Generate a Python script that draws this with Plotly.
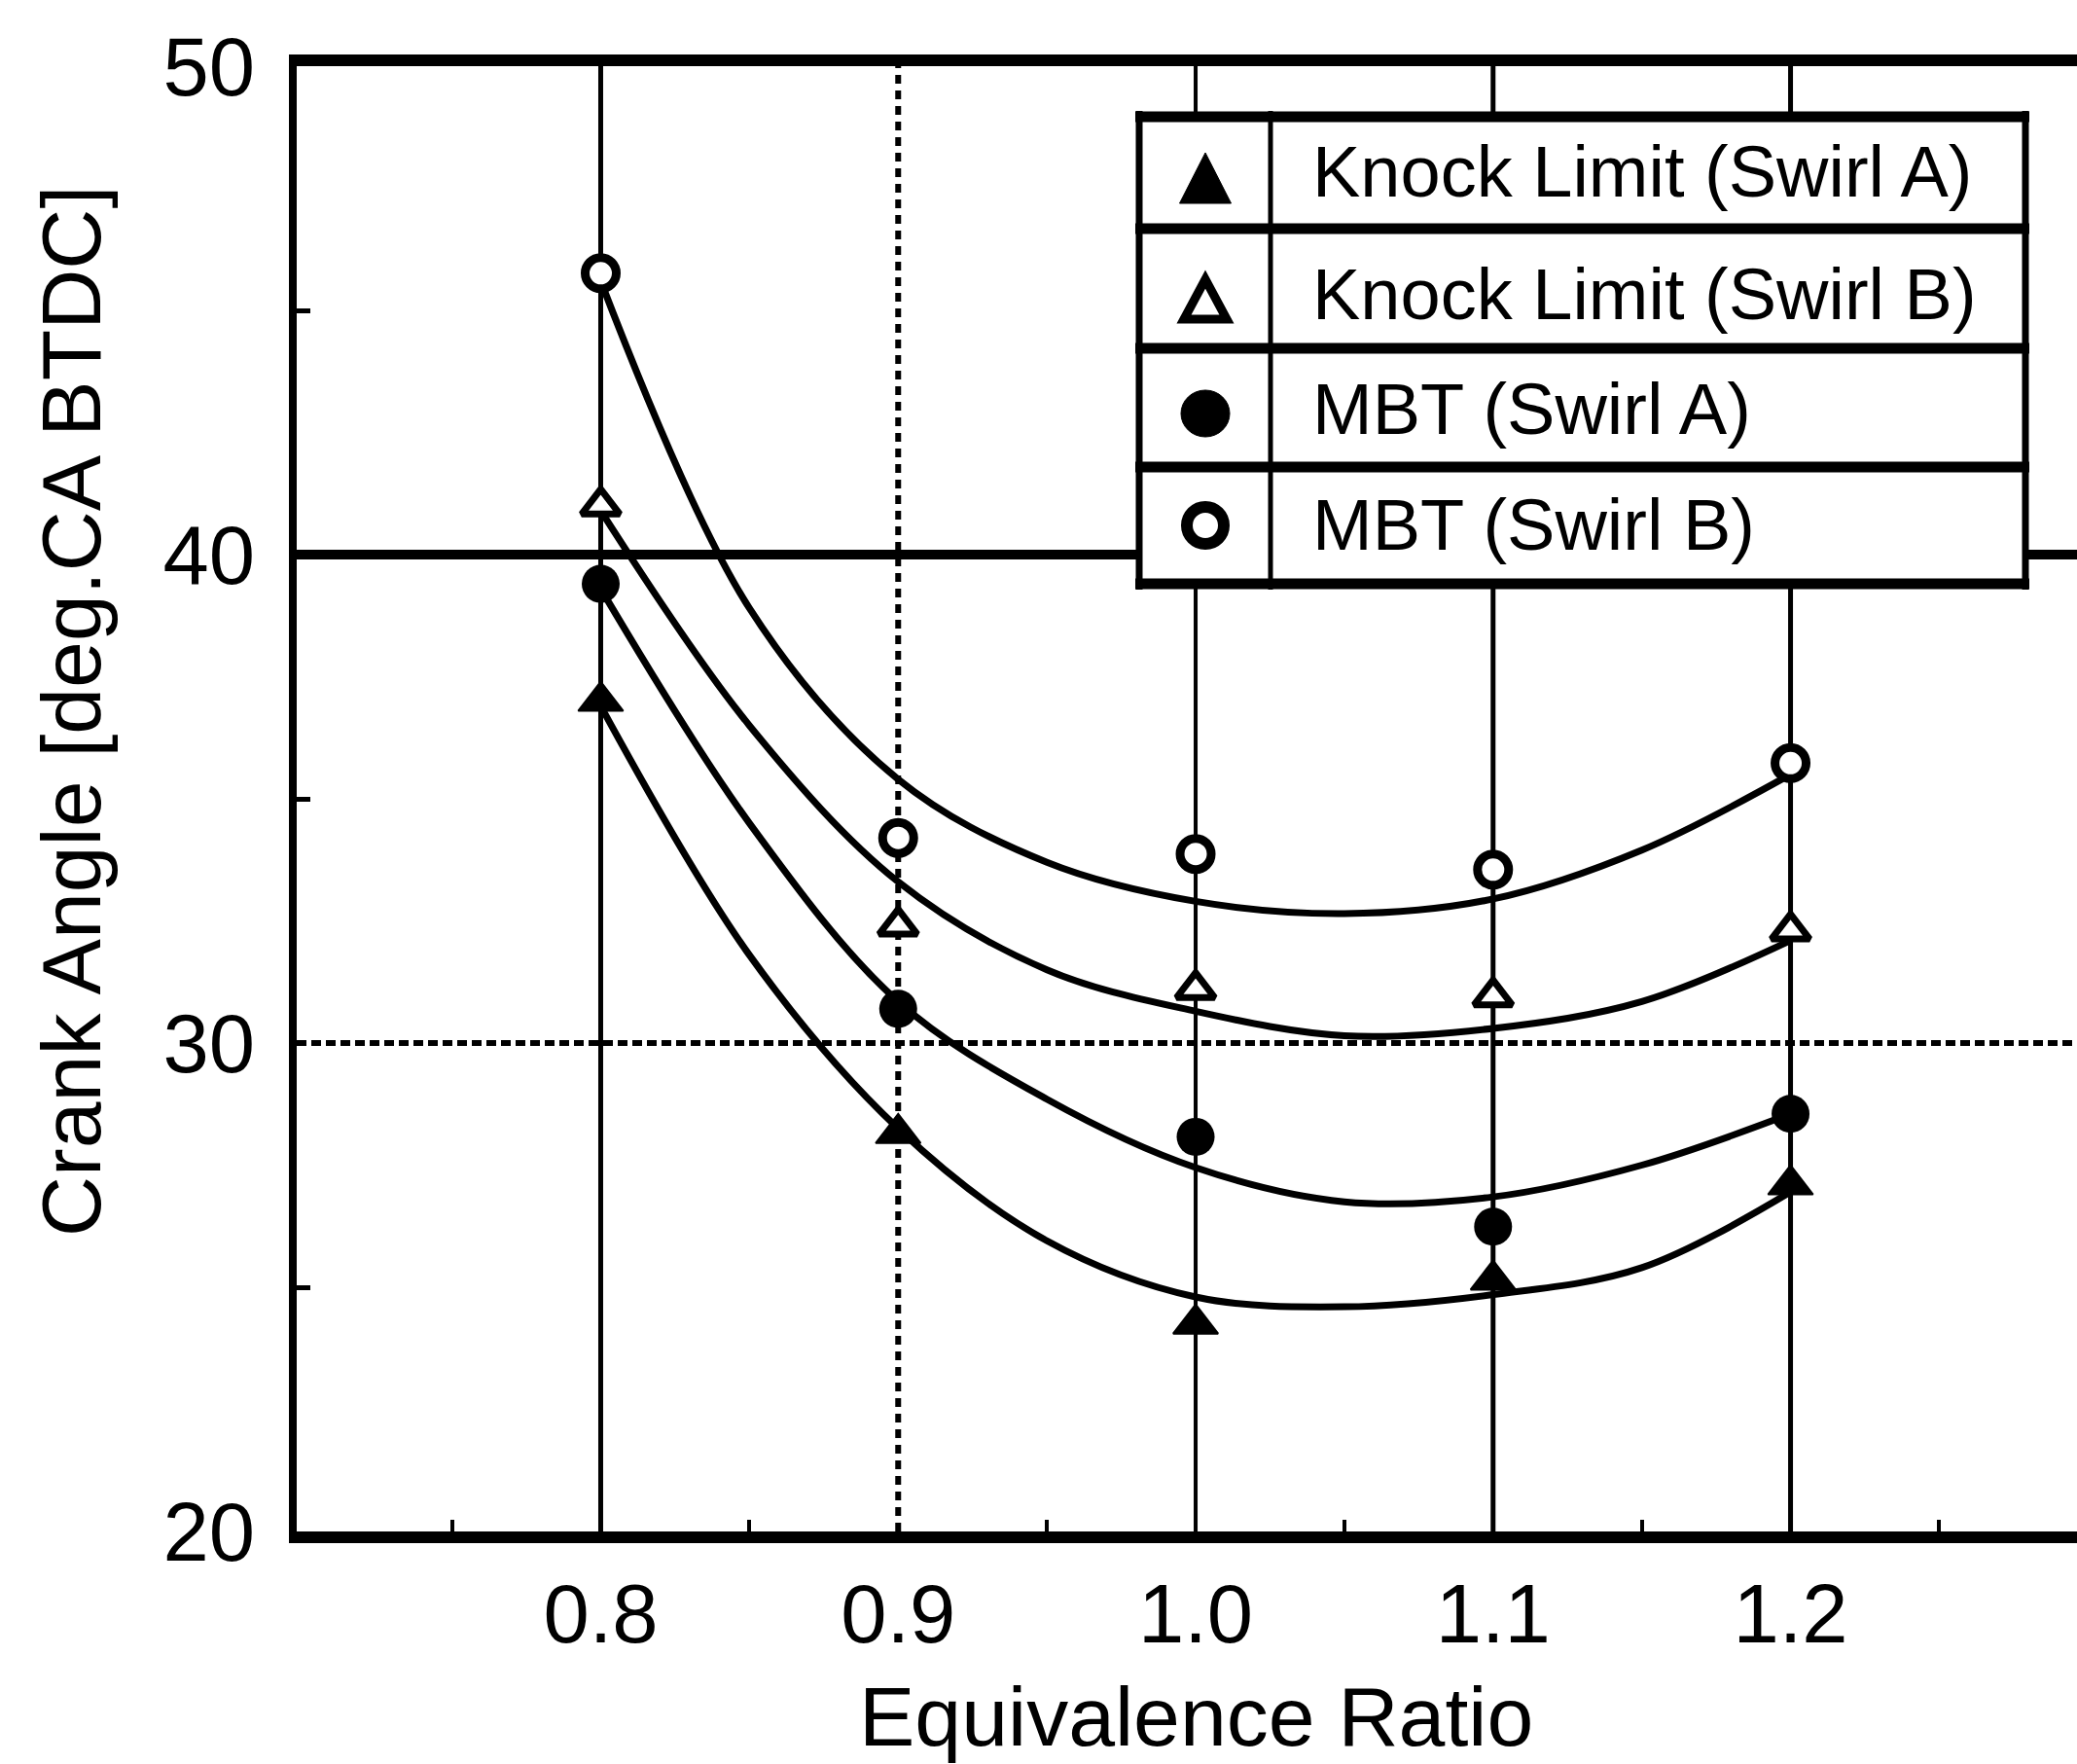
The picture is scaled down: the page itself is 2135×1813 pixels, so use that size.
import plotly.graph_objects as go

# ---------------- data ----------------
eq_ratio = [0.8, 0.9, 1.0, 1.1, 1.2]

knock_a = [37.0, 28.15, 24.25, 25.15, 27.1]
knock_b = [41.0, 32.4, 31.1, 30.95, 32.3]
mbt_a = [39.4, 30.7, 28.08, 26.24, 28.55]
mbt_b = [45.76, 34.2, 33.87, 33.55, 35.73]

# fitted curves
curve_x = [0.8, 0.85, 0.9, 0.95, 1.0, 1.05, 1.1, 1.15, 1.2]
curve_mbt_b = [45.6, 38.9, 35.4, 33.7, 32.9, 32.65, 32.95, 33.95, 35.5]
curve_knock_b = [40.9, 36.5, 33.3, 31.5, 30.65, 30.15, 30.3, 30.85, 32.1]
curve_mbt_a = [39.3, 34.5, 30.85, 28.85, 27.45, 26.75, 26.85, 27.5, 28.55]
curve_knock_a = [36.9, 31.8, 28.25, 25.95, 24.8, 24.6, 24.85, 25.4, 26.95]

x_ticks = [0.8, 0.9, 1.0, 1.1, 1.2]
x_ticktext = ["0.8", "0.9", "1.0", "1.1", "1.2"]
x_minor = [0.75, 0.85, 0.95, 1.05, 1.15, 1.25]
y_ticks = [20, 30, 40, 50]
y_minor = [25, 35, 45]

legend_labels = ["Knock Limit (Swirl A)", "Knock Limit (Swirl B)",
                 "MBT (Swirl A)", "MBT (Swirl B)"]

x_title = "Equivalence Ratio"
y_title = "Crank Angle [deg.CA BTDC]"

# ---------------- layout geometry ----------------
W, H = 2135, 1813
L, R, T, B = 305, 2135, 68, 1574
FONT = "Liberation Sans, Arial, Helvetica, sans-serif"


def px(xp):
    return (xp - L) / (R - L)


def py(yp):
    return (B - yp) / (B - T)


fig = go.Figure()

# curves
for cy in [curve_knock_a, curve_mbt_a, curve_knock_b, curve_mbt_b]:
    fig.add_trace(go.Scatter(x=curve_x, y=cy, mode="lines",
                             line=dict(color="black", width=7, shape="spline", smoothing=1.0),
                             hoverinfo="skip", showlegend=False))

# markers
fig.add_trace(go.Scatter(x=eq_ratio, y=knock_a, mode="markers", name=legend_labels[0],
                         marker=dict(symbol="triangle-up", size=40, color="black",
                                     line=dict(width=2, color="black"))))
fig.add_trace(go.Scatter(x=eq_ratio, y=knock_b, mode="markers", name=legend_labels[1],
                         marker=dict(symbol="triangle-up", size=34, color="white",
                                     line=dict(width=7, color="black"))))
fig.add_trace(go.Scatter(x=eq_ratio, y=mbt_a, mode="markers", name=legend_labels[2],
                         marker=dict(symbol="circle", size=39, color="black",
                                     line=dict(width=0, color="black"))))
fig.add_trace(go.Scatter(x=eq_ratio, y=mbt_b, mode="markers", name=legend_labels[3],
                         marker=dict(symbol="circle", size=32, color="white",
                                     line=dict(width=9, color="black"))))

shapes = []
# grid lines (individual styles, as in the scanned figure)
vgrid_style = {0.8: ("solid", 5), 0.9: ("9px,7px", 6), 1.0: ("solid", 4),
               1.1: ("solid", 5), 1.2: ("solid", 5)}
for xv in x_ticks:
    dash, wdt = vgrid_style[xv]
    shapes.append(dict(type="line", xref="x", yref="paper", x0=xv, x1=xv, y0=0, y1=1,
                       line=dict(color="black", width=wdt, dash=dash), layer="below"))
hgrid_style = {40: ("solid", 10), 30: ("10px,5px", 6)}
for yv in [40, 30]:
    dash, wdt = hgrid_style[yv]
    shapes.append(dict(type="line", xref="paper", yref="y", x0=0, x1=1, y0=yv, y1=yv,
                       line=dict(color="black", width=wdt, dash=dash), layer="below"))

# legend table
shapes.append(dict(type="rect", xref="paper", yref="paper",
                   x0=px(1171), x1=px(2082), y0=py(600), y1=py(120),
                   fillcolor="white", line=dict(width=0), layer="above"))
for yl in [120, 235, 358, 480, 600]:
    shapes.append(dict(type="line", xref="paper", yref="paper",
                       x0=px(1167), x1=px(2086), y0=py(yl), y1=py(yl),
                       line=dict(color="black", width=11), layer="above"))
for xl, wl in [(1171, 7), (2082, 7), (1306, 5)]:
    shapes.append(dict(type="line", xref="paper", yref="paper",
                       x0=px(xl), x1=px(xl), y0=py(114), y1=py(606),
                       line=dict(color="black", width=wl), layer="above"))


def tri_path(cx, top, bottom, half_w):
    return (f"M {px(cx - half_w)},{py(bottom)} L {px(cx + half_w)},{py(bottom)} "
            f"L {px(cx)},{py(top)} Z")


mx = 1239
shapes.append(dict(type="path", xref="paper", yref="paper", path=tri_path(mx, 157, 209, 26.5),
                   fillcolor="black", line=dict(color="black", width=1), layer="above"))
shapes.append(dict(type="path", xref="paper", yref="paper", path=tri_path(mx, 287, 328, 22),
                   fillcolor="white", line=dict(color="black", width=9), layer="above"))
shapes.append(dict(type="circle", xref="paper", yref="paper",
                   x0=px(mx - 25), x1=px(mx + 25), y0=py(449), y1=py(401),
                   fillcolor="black", line=dict(color="black", width=1), layer="above"))
shapes.append(dict(type="circle", xref="paper", yref="paper",
                   x0=px(mx - 19), x1=px(mx + 19), y0=py(559), y1=py(521),
                   fillcolor="white", line=dict(color="black", width=12), layer="above"))

annotations = []
for lbl, yc in zip(legend_labels, [176, 302, 420, 539]):
    annotations.append(dict(text=lbl, xref="paper", yref="paper", x=px(1347), y=py(yc),
                            xanchor="left", yanchor="middle", showarrow=False,
                            font=dict(family=FONT, size=74, color="black")))
annotations.append(dict(text=x_title, xref="paper", yref="paper", x=px(1229), y=py(1764),
                        xanchor="center", yanchor="middle", showarrow=False,
                        font=dict(family=FONT, size=86, color="black")))
annotations.append(dict(text=y_title, xref="paper", yref="paper", x=px(73), y=py(731),
                        xanchor="center", yanchor="middle", showarrow=False, textangle=-90,
                        font=dict(family=FONT, size=86, color="black")))

fig.update_layout(
    width=W, height=H,
    margin=dict(l=L, r=W - R, t=T, b=H - B, pad=0),
    paper_bgcolor="white", plot_bgcolor="white",
    showlegend=False,
    shapes=shapes, annotations=annotations,
    font=dict(family=FONT, color="black"),
    xaxis=dict(range=[0.6978, 1.2963], showgrid=False, zeroline=False,
               showline=True, linewidth=12, linecolor="black", mirror=True,
               ticks="", tickmode="array", tickvals=x_ticks, ticktext=x_ticktext,
               tickfont=dict(family=FONT, size=85, color="black"), ticklabelstandoff=0,
               minor=dict(tickmode="array", tickvals=x_minor, ticks="inside", ticklen=12,
                          tickwidth=4, tickcolor="black", showgrid=False)),
    yaxis=dict(range=[20, 50], showgrid=False, zeroline=False,
               showline=True, linewidth=8, linecolor="black", mirror=False,
               ticks="", tickmode="array", tickvals=y_ticks,
               tickfont=dict(family=FONT, size=85, color="black"), ticklabelstandoff=18,
               minor=dict(tickmode="array", tickvals=y_minor, ticks="inside", ticklen=14,
                          tickwidth=5, tickcolor="black", showgrid=False)),
)

fig.write_html("out.html")
